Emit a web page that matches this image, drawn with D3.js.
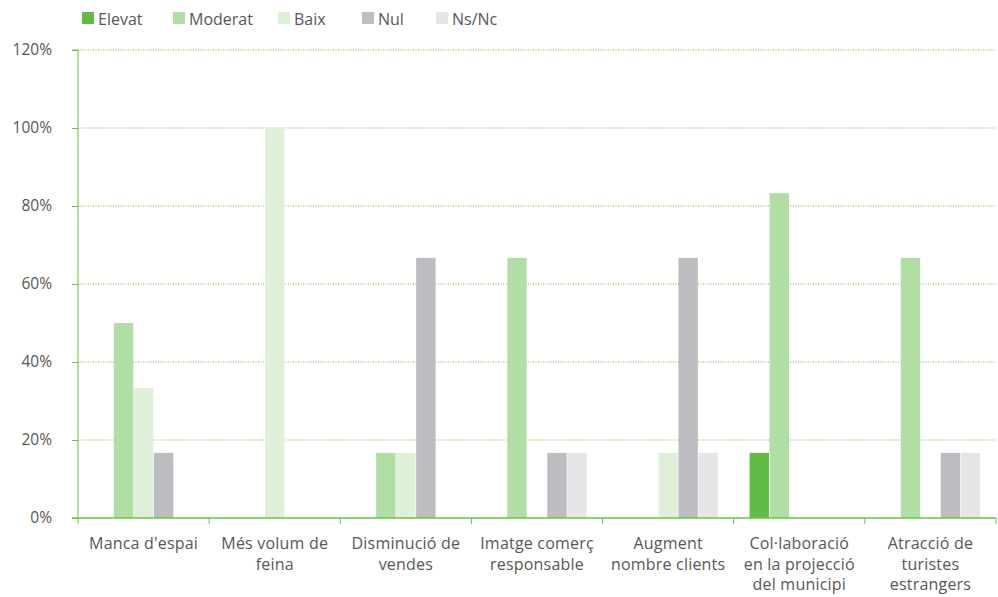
<!DOCTYPE html>
<html>
<head>
<meta charset="utf-8">
<script src="https://cdnjs.cloudflare.com/ajax/libs/d3/7.8.5/d3.min.js"></script>
<style>
  body { margin: 0; background: #fff; }
  text { font-family: "Open Sans", Lato, sans-serif; fill: #575757; }
</style>
</head>
<body>
<div id="chart"></div>
<script>
// data
var categories = [
    ["Manca d'espai"],
    ["Més volum de", "feina"],
    ["Disminució de", "vendes"],
    ["Imatge comerç", "responsable"],
    ["Augment", "nombre clients"],
    ["Col·laboració", "en la projecció", "del municipi"],
    ["Atracció de", "turistes", "estrangers"]
];
var seriesNames = ["Elevat", "Moderat", "Baix", "Nul", "Ns/Nc"];
var elevat  = [0, 0, 0, 0, 0, 16.7, 0];
var moderat = [50, 0, 16.7, 66.7, 0, 83.3, 66.7];
var baix    = [33.3, 100, 16.7, 0, 16.7, 0, 0];
var nul     = [16.7, 0, 66.7, 16.7, 66.7, 0, 16.7];
var nsnc    = [0, 0, 0, 16.7, 16.7, 0, 16.7];
var yTicks = [0, 20, 40, 60, 80, 100, 120];
var colors = ["#62bb46", "#b0dea4", "#dff0d9", "#bcbdc0", "#e5e6e8"];

var allSeries = [elevat, moderat, baix, nul, nsnc];

var svgWidth = 998, svgHeight = 597;
var margin = {top: 50, right: 2, bottom: 79, left: 78};
var width = svgWidth - margin.left - margin.right;
var height = svgHeight - margin.top - margin.bottom;

var svg = d3.select("#chart").append("svg")
    .attr("width", svgWidth)
    .attr("height", svgHeight);

var chartGroup = svg.append("g")
    .attr("transform", `translate(${margin.left}, ${margin.top})`);

var x0 = d3.scaleBand()
    .domain(d3.range(categories.length))
    .range([0, width]);

var innerW = 100;
var x1 = d3.scaleBand()
    .domain(d3.range(seriesNames.length))
    .range([(x0.bandwidth() - innerW) / 2, (x0.bandwidth() + innerW) / 2]);

var y = d3.scaleLinear()
    .domain([0, 120])
    .range([height, 0]);

// dotted gridlines
chartGroup.selectAll(".grid")
    .data(yTicks.filter(d => d > 0))
    .enter()
    .append("line")
    .attr("x1", 0)
    .attr("x2", width)
    .attr("y1", d => y(d))
    .attr("y2", d => y(d))
    .attr("stroke", "#6cc24a")
    .attr("stroke-width", 1)
    .attr("stroke-dasharray", "1,1.5");

// bars
var groups = chartGroup.selectAll(".cat")
    .data(categories)
    .enter()
    .append("g")
    .attr("transform", (d, i) => `translate(${x0(i)},0)`);

groups.selectAll("rect")
    .data((d, i) => allSeries.map((s, j) => ({s: j, v: s[i]})))
    .enter()
    .append("rect")
    .filter(d => d.v > 0)
    .attr("x", d => x1(d.s) + 0.3)
    .attr("width", x1.bandwidth() - 0.6)
    .attr("y", d => y(d.v))
    .attr("height", d => height - y(d.v))
    .attr("fill", d => colors[d.s]);

// y axis
var yAxis = d3.axisLeft(y)
    .tickValues(yTicks)
    .tickSize(6)
    .tickPadding(20)
    .tickFormat(d => d + "%");

var yG = chartGroup.append("g").call(yAxis);
yG.select(".domain").attr("stroke", "#6cc24a").attr("d", `M-6,0H0V${height}`);
yG.selectAll(".tick line").attr("stroke", "#6cc24a");
yG.selectAll(".tick text")
    .attr("font-family", "'Open Sans', sans-serif")
    .attr("font-size", 15.5)
    .attr("fill", "#575757");

// x axis: line with boundary ticks
var xG = chartGroup.append("g")
    .attr("transform", `translate(0,${height})`);
xG.append("line")
    .attr("x1", -6).attr("x2", width)
    .attr("stroke", "#6cc24a").attr("stroke-width", 1.5);
xG.selectAll(".xt")
    .data(d3.range(categories.length + 1))
    .enter()
    .append("line")
    .attr("x1", d => d * x0.step())
    .attr("x2", d => d * x0.step())
    .attr("y1", 0).attr("y2", 6)
    .attr("stroke", "#6cc24a");

xG.selectAll(".xl")
    .data(categories)
    .enter()
    .append("text")
    .attr("text-anchor", "middle")
    .attr("font-size", 16)
    .attr("letter-spacing", 0.2)
    .attr("transform", (d, i) => `translate(${x0(i) + x0.bandwidth() / 2},31)`)
    .each(function(d) {
        d3.select(this).selectAll("tspan")
            .data(d)
            .enter()
            .append("tspan")
            .attr("x", 0)
            .attr("dy", (t, k) => k === 0 ? 0 : 20.5)
            .text(t => t);
    });

// legend
var legendX = [82, 173, 278, 362, 436];
var legend = svg.selectAll(".legend")
    .data(seriesNames)
    .enter()
    .append("g")
    .attr("transform", (d, i) => `translate(${legendX[i]},12)`);
legend.append("rect")
    .attr("width", 12).attr("height", 12)
    .attr("fill", (d, i) => colors[i]);
legend.append("text")
    .attr("x", 16).attr("y", 12.5)
    .attr("font-size", 16)
    .text(d => d);
</script>
</body>
</html>
